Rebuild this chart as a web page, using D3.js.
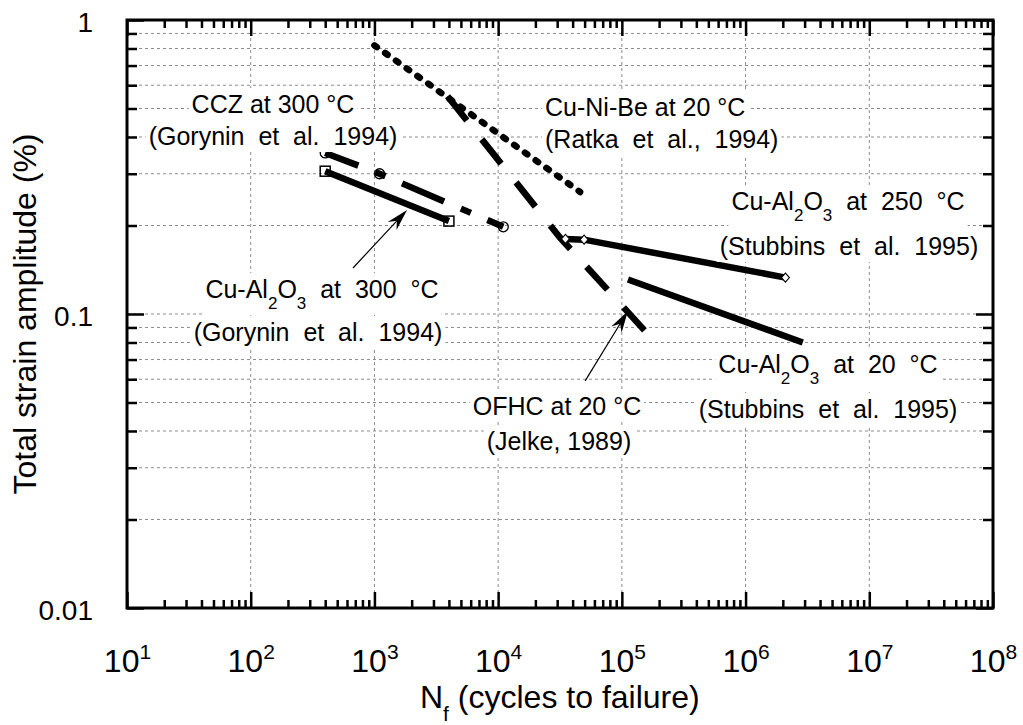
<!DOCTYPE html>
<html>
<head>
<meta charset="utf-8">
<script src="https://cdn.jsdelivr.net/npm/d3@7"></script>
<style>
  body { margin: 0; background: #fff; }
  svg text { font-family: "Liberation Sans", Arial, Helvetica, sans-serif; fill: #000; white-space: pre; }
</style>
</head>
<body>
<svg id="chart" width="1023" height="725"></svg>
<script>
// Low-cycle fatigue of copper alloys: total strain amplitude (%) vs cycles to failure
const cuNiBeCycles = [1000, 46000];
const cuNiBeStrain = [0.82, 0.26];
const ofhcCycles = [3900, 31600, 160000];
const ofhcStrain = [0.55, 0.182, 0.086];
const cczCycles = [400, 1100, 11000];
const cczStrain = [0.353, 0.300, 0.198];
const al300Cycles = [400, 4000];
const al300Strain = [0.306, 0.207];
const al250Cycles = [35000, 49500, 2100000];
const al250Strain = [0.180, 0.179, 0.133];
const al20Cycles = [112000, 2900000];
const al20Strain = [0.131, 0.080];

// Annotation arrows: [cycles, strain] of tail and tip
const arrowAl300 = [[671, 0.1434], [1837, 0.226]];
const arrowOfhc = [[50500, 0.0592], [112000, 0.1024]];

const xTickExponents = [1, 2, 3, 4, 5, 6, 7, 8];
const yTickValues = [0.01, 0.1, 1];
const yTickLabels = ["0.01", "0.1", "1"];

const svg = d3.select("#chart");
const plotLeft = 127, plotRight = 993, plotTop = 20, plotBottom = 608;

const x = d3.scaleLog().domain([1e1, 1e8]).range([plotLeft, plotRight]);
const y = d3.scaleLog().domain([0.01, 1]).range([plotBottom, plotTop]);

const xMajor = xTickExponents.map(e => Math.pow(10, e));
const xMinor = [];
for (let e = 1; e < 8; e++) for (let k = 2; k <= 9; k++) xMinor.push(k * Math.pow(10, e));
const yMinor = [];
for (let e = -2; e < 0; e++) for (let k = 2; k <= 9; k++) yMinor.push(k * Math.pow(10, e));

// Dashed grid
const grid = svg.append("g").attr("stroke", "#8c8c8c").attr("stroke-width", 1)
  .attr("stroke-dasharray", "3,3").attr("fill", "none");
grid.selectAll("line.v").data(xMajor.slice(1, -1)).join("line").attr("class", "v")
  .attr("x1", d => x(d)).attr("x2", d => x(d)).attr("y1", plotTop).attr("y2", plotBottom);
grid.selectAll("line.h").data(yMinor.concat([0.1])).join("line").attr("class", "h")
  .attr("x1", plotLeft).attr("x2", plotRight).attr("y1", d => y(d)).attr("y2", d => y(d));

// Data curves
const line = d3.line().x(d => x(d[0])).y(d => y(d[1]));
const zip = (a, b) => a.map((v, i) => [v, b[i]]);
const curves = svg.append("g").attr("fill", "none").attr("stroke", "#000");

curves.append("path").datum(zip(cuNiBeCycles, cuNiBeStrain)).attr("d", line)
  .attr("stroke-width", 6.5).attr("stroke-linecap", "round").attr("stroke-dasharray", "3,10.2");
curves.append("path").datum(zip(ofhcCycles, ofhcStrain)).attr("d", line)
  .attr("stroke-width", 6.5).attr("stroke-dasharray", "31,24");
curves.append("path").datum(zip(cczCycles, cczStrain)).attr("d", line)
  .attr("stroke-width", 6.5).attr("stroke-dasharray", "45.7,18.3,10.8,18.1").attr("stroke-dashoffset", 10.2);
curves.append("path").datum(zip(al300Cycles, al300Strain)).attr("d", line).attr("stroke-width", 6.5);
curves.append("path").datum(zip(al250Cycles, al250Strain)).attr("d", line).attr("stroke-width", 6.5);
curves.append("path").datum(zip(al20Cycles, al20Strain)).attr("d", line).attr("stroke-width", 6.5);

// Markers
const marks = svg.append("g").attr("stroke", "#000");
marks.selectAll("circle").data(zip(cczCycles, cczStrain)).join("circle")
  .attr("cx", d => x(d[0])).attr("cy", d => y(d[1])).attr("r", 5)
  .attr("fill", "none").attr("stroke-width", 1.3);
marks.selectAll("rect").data(zip(al300Cycles, al300Strain)).join("rect")
  .attr("x", d => x(d[0]) - 5).attr("y", d => y(d[1]) - 5).attr("width", 10).attr("height", 10)
  .attr("fill", "none").attr("stroke-width", 1.5);
marks.selectAll("path").data(zip(al250Cycles, al250Strain)).join("path")
  .attr("d", d => { const cx = x(d[0]), cy = y(d[1]);
    return `M${cx},${cy - 4.5}L${cx + 4},${cy}L${cx},${cy + 4.5}L${cx - 4},${cy}Z`; })
  .attr("fill", "#fff").attr("stroke-width", 1.1);

// Text annotations (each line: list of [text, isSubscript])
const notes = [
  { x: 273, y: 113, anchor: "middle", parts: [["CCZ at 300 °C"]] },
  { x: 273, y: 145, anchor: "middle", parts: [["(Gorynin  et  al.  1994)"]] },
  { x: 545, y: 116, anchor: "start", parts: [["Cu-Ni-Be at 20 °C"]] },
  { x: 545, y: 148, anchor: "start", parts: [["(Ratka  et  al.,  1994)"]] },
  { x: 848, y: 210, anchor: "middle", parts: [["Cu-Al"], ["2", 1], ["O"], ["3", 1], ["  at  250  °C"]] },
  { x: 849, y: 255, anchor: "middle", parts: [["(Stubbins  et  al.  1995)"]] },
  { x: 322, y: 298, anchor: "middle", parts: [["Cu-Al"], ["2", 1], ["O"], ["3", 1], ["  at  300  °C"]] },
  { x: 318, y: 341, anchor: "middle", parts: [["(Gorynin  et  al.  1994)"]] },
  { x: 828, y: 373, anchor: "middle", parts: [["Cu-Al"], ["2", 1], ["O"], ["3", 1], ["  at  20  °C"]] },
  { x: 828, y: 418, anchor: "middle", parts: [["(Stubbins  et  al.  1995)"]] },
  { x: 557, y: 415, anchor: "middle", parts: [["OFHC at 20 °C"]] },
  { x: 559, y: 450, anchor: "middle", parts: [["(Jelke, 1989)"]] }
];
const noteLayer = svg.append("g");
notes.forEach(n => {
  const g = noteLayer.append("g");
  const bg = g.append("rect").attr("fill", "#fff");
  const t = g.append("text").attr("x", n.x).attr("y", n.y)
    .attr("text-anchor", n.anchor).attr("font-size", 25);
  let shifted = false;
  n.parts.forEach(p => {
    const s = t.append("tspan").text(p[0]);
    if (p[1]) { s.attr("font-size", 17).attr("dy", shifted ? 0 : 11); shifted = true; }
    else if (shifted) { s.attr("dy", -11); shifted = false; }
  });
  const b = t.node().getBBox();
  bg.attr("x", b.x - 3).attr("y", b.y - 2).attr("width", b.width + 6).attr("height", b.height + 4);
});

// Arrows
function arrow(a) {
  const x0 = x(a[0][0]), y0 = y(a[0][1]), x1 = x(a[1][0]), y1 = y(a[1][1]);
  const len = Math.hypot(x1 - x0, y1 - y0), ux = (x1 - x0) / len, uy = (y1 - y0) / len;
  const nx = -uy, ny = ux, L = 22, W = 6, N = 15;
  svg.append("line").attr("x1", x0).attr("y1", y0).attr("x2", x1 - ux * N).attr("y2", y1 - uy * N)
    .attr("stroke", "#000").attr("stroke-width", 1.2);
  svg.append("path").attr("fill", "#000")
    .attr("d", `M${x1},${y1}L${x1 - ux * L + nx * W},${y1 - uy * L + ny * W}L${x1 - ux * N},${y1 - uy * N}L${x1 - ux * L - nx * W},${y1 - uy * L - ny * W}Z`);
}
arrow(arrowAl300);
arrow(arrowOfhc);

// Axes: inward ticks on all four sides
function drawAxis(gen, tf) {
  const g = svg.append("g").attr("transform", tf).call(gen);
  g.select(".domain").remove();
  g.selectAll(".tick line").attr("stroke", "#000").attr("stroke-width", 2.5);
  g.selectAll(".tick text").remove();
  return g;
}
const xb = drawAxis(d3.axisBottom(x).tickValues(xMajor).tickSize(-16).tickFormat(""), `translate(0,${plotBottom})`);
drawAxis(d3.axisBottom(x).tickValues(xMinor).tickSize(-8).tickFormat(""), `translate(0,${plotBottom})`);
drawAxis(d3.axisTop(x).tickValues(xMajor).tickSize(-16).tickFormat(""), `translate(0,${plotTop})`);
drawAxis(d3.axisTop(x).tickValues(xMinor).tickSize(-8).tickFormat(""), `translate(0,${plotTop})`);
const yl = drawAxis(d3.axisLeft(y).tickValues(yTickValues).tickSize(-17).tickFormat(""), `translate(${plotLeft},0)`);
drawAxis(d3.axisLeft(y).tickValues(yMinor).tickSize(-10).tickFormat(""), `translate(${plotLeft},0)`);
drawAxis(d3.axisRight(y).tickValues(yTickValues).tickSize(-17).tickFormat(""), `translate(${plotRight},0)`);
drawAxis(d3.axisRight(y).tickValues(yMinor).tickSize(-10).tickFormat(""), `translate(${plotRight},0)`);

svg.append("rect").attr("x", plotLeft).attr("y", plotTop)
  .attr("width", plotRight - plotLeft).attr("height", plotBottom - plotTop)
  .attr("fill", "none").attr("stroke", "#000").attr("stroke-width", 3);

// Tick labels
xb.selectAll(".tick").each(function (d, i) {
  const t = d3.select(this).append("text").attr("y", 64).attr("text-anchor", "middle")
    .attr("font-size", 32).attr("fill", "#000");
  t.append("tspan").text("10");
  t.append("tspan").attr("font-size", 21).attr("dy", -13).text(xTickExponents[i]);
});
yl.selectAll(".tick").each(function (d, i) {
  d3.select(this).append("text").attr("x", -34).attr("y", 11).attr("text-anchor", "end")
    .attr("font-size", 28).attr("fill", "#000").text(yTickLabels[i]);
});

// Axis titles
const xt = svg.append("text").attr("x", 420).attr("y", 708).attr("font-size", 32);
xt.append("tspan").text("N");
xt.append("tspan").attr("font-size", 21).attr("dy", 13).text("f");
xt.append("tspan").attr("dy", -13).text(" (cycles to failure)");

svg.append("text").attr("transform", `translate(36,${(plotTop + plotBottom) / 2}) rotate(-90)`)
  .attr("text-anchor", "middle").attr("font-size", 32).text("Total strain amplitude (%)");
</script>
</body>
</html>
